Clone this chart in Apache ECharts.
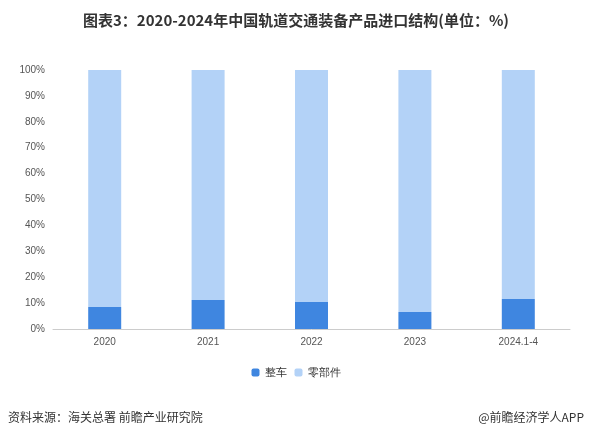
<!DOCTYPE html><html><head><meta charset="utf-8"><script src="https://cdn.jsdelivr.net/npm/echarts@6/dist/echarts.min.js"></script></head><body style="margin:0"><div id="c" style="width:592px;height:435px"></div><script>
const categories=['2020','2021','2022','2023','2024.1-4'];
const vehicle=[8.5,11.2,10.4,6.6,11.6];
const parts=[91.5,88.8,89.6,93.4,88.4];
const c=echarts.init(document.getElementById('c'));
c.setOption({
title:{text:'图表3：2020-2024年中国轨道交通装备产品进口结构(单位：%)',left:'center',top:8,textStyle:{fontSize:15,fontWeight:'bold',color:'#333',fontFamily:'Noto Sans CJK SC'}},
grid:{left:53,right:22,top:70,bottom:106},
xAxis:{type:'category',data:categories,axisTick:{show:false},axisLine:{lineStyle:{color:'#ccc'}},axisLabel:{color:'#555',fontSize:10}},
yAxis:{type:'value',min:0,max:100,interval:10,axisLabel:{formatter:'{value}%',color:'#555',fontSize:10},splitLine:{show:false},axisLine:{show:false}},
legend:{bottom:52,itemWidth:8,itemHeight:8,textStyle:{fontSize:11,color:'#333'},data:['整车','零部件']},
series:[{name:'整车',type:'bar',stack:'a',barWidth:33,data:vehicle,itemStyle:{color:'#3f86e0'}},
{name:'零部件',type:'bar',stack:'a',data:parts,itemStyle:{color:'#b3d2f7'}}],
graphic:[{type:'text',left:8,bottom:12,style:{text:'资料来源：海关总署 前瞻产业研究院',fontSize:12,fill:'#333',fontFamily:'Noto Sans CJK SC'}},
{type:'text',right:8,bottom:12,style:{text:'@前瞻经济学人APP',fontSize:12,fill:'#333',fontFamily:'Noto Sans CJK SC'}}]
});
</script></body></html>
